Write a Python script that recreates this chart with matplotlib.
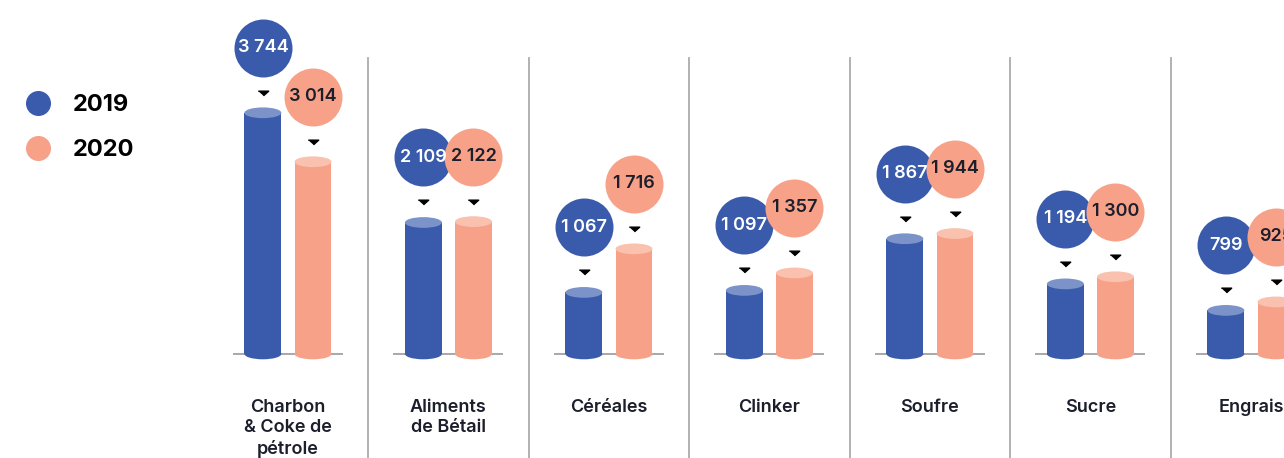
import matplotlib
matplotlib.use("Agg")
import matplotlib.pyplot as plt
from matplotlib.patches import Ellipse, Rectangle
from matplotlib.transforms import offset_copy, blended_transform_factory
from matplotlib.lines import Line2D

# ---- data ----
categories = ["Charbon\n& Coke de\npétrole", "Aliments\nde Bétail", "Céréales",
              "Clinker", "Soufre", "Sucre", "Engrais"]
values_2019 = [3744, 2109, 1067, 1097, 1867, 1194, 799]
values_2020 = [3014, 2122, 1716, 1357, 1944, 1300, 925]
series_labels = ["2019", "2020"]

# ---- style ----
BLUE, BLUE_TOP = "#3a5bac", "#7b93c8"
ORANGE, ORANGE_TOP = "#f6a188", "#f9c1ae"
TEXT = "#1c1f2b"
FONT = ["Inter", "DejaVu Sans"]
plt.rcParams["font.family"] = FONT

fig = plt.figure(figsize=(12.84, 4.58), dpi=100)
ax = fig.add_axes([0, 0, 1, 1])
ax.set_xlim(-1.794, 6.206)
ax.set_ylim(-1401, 5425)
ax.axis("off")

base = 150          # visual floor of the cylinders
bar_w = 0.23
dx = 0.156
ell_h = 160         # ellipse height in data units

xs = list(range(len(categories)))

# separators
for i in range(len(categories) - 1):
    ax.axvline(i + 0.5, ymin=0, ymax=1 - 58 / 458, color="#ababab", lw=1.3, zorder=0)

# baselines
ax.hlines([base] * len(xs), [x - 0.343 for x in xs], [x + 0.343 for x in xs],
          color="#9a9a9a", lw=1.2, zorder=1)

series = [(values_2019, -dx, BLUE, BLUE_TOP, "white"),
          (values_2020, dx, ORANGE, ORANGE_TOP, TEXT)]

tri = [(-1, 0.45), (1, 0.45), (0, -0.45)]
tri_tr = offset_copy(ax.transData, fig=fig, y=20, units="dots")
circ_tr = offset_copy(ax.transData, fig=fig, y=65, units="dots")

for k, (vals, off, col, top, tcol) in enumerate(series):
    bx = [x + off for x in xs]
    for x, v in zip(bx, vals):
        ax.add_patch(Ellipse((x, base), bar_w, ell_h, color=col, zorder=2, lw=0))
        ax.add_patch(Rectangle((x - bar_w / 2, base), bar_w, v - base, color=col, zorder=2, lw=0))
        ax.add_patch(Ellipse((x, v), bar_w, ell_h, color=top, zorder=3, lw=0))
    ax.plot(bx, vals, ls="", marker=tri, markersize=7.5, color="black",
            transform=tri_tr, zorder=4)
    ax.scatter(bx, vals, s=1744, color=col, transform=circ_tr, zorder=5 + k, lw=0)
    for x, v in zip(bx, vals):
        ax.text(x, v, f"{v:,}".replace(",", " "), transform=circ_tr, ha="center",
                va="center", color=tcol, fontsize=13, fontweight="semibold", zorder=7)

# category labels
lab_tr = blended_transform_factory(ax.transData, ax.transAxes)
for x, c in zip(xs, categories):
    ax.text(x, 1 - 399 / 458, c, transform=lab_tr, ha="center", va="top",
            fontsize=13, fontweight="semibold", color=TEXT, linespacing=1.25)

# legend
handles = [Line2D([], [], ls="", marker="o", markersize=17, color=BLUE),
           Line2D([], [], ls="", marker="o", markersize=17, color=ORANGE)]
leg = ax.legend(handles, series_labels, loc="upper left", bbox_to_anchor=(0.011, 1 - 82 / 458),
                frameon=False, prop={"size": 17, "weight": "bold", "family": FONT},
                handletextpad=0.92, labelspacing=0.99, handlelength=1.06, borderpad=0)
for t in leg.get_texts():
    t.set_color("black")

fig.savefig("out.png", dpi=100)
